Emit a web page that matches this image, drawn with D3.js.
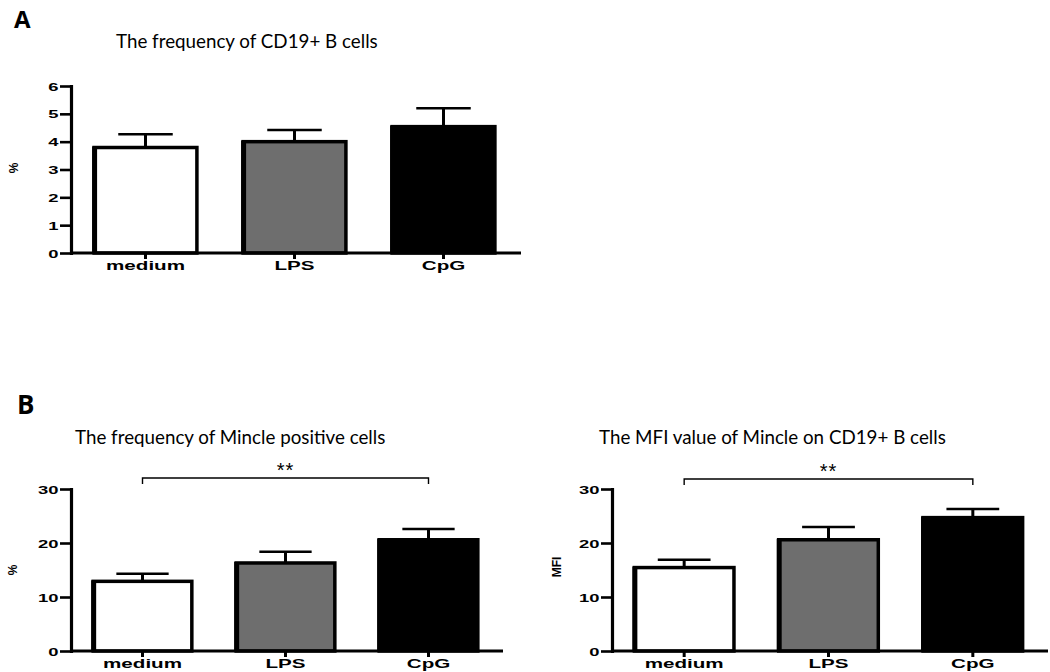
<!DOCTYPE html>
<html>
<head>
<meta charset="utf-8">
<script src="https://cdn.jsdelivr.net/npm/d3@7"></script>
<style>
  html, body { margin: 0; padding: 0; background: #fff; }
  svg { display: block; }
</style>
</head>
<body>
<script>
// ---------------- data ----------------
const categories = ["medium", "LPS", "CpG"];
const barColors = ["#ffffff", "#6e6e6e", "#000000"];

const cd19Mean = [3.79, 4.0, 4.54];
const cd19Err  = [0.48, 0.42, 0.66];
const cd19Ticks = [0, 1, 2, 3, 4, 5, 6];

const mincleFreqMean = [12.9, 16.3, 20.6];
const mincleFreqErr  = [1.4, 2.1, 2.0];
const mincleFreqTicks = [0, 10, 20, 30];

const mincleMfiMean = [15.45, 20.6, 24.7];
const mincleMfiErr  = [1.45, 2.35, 1.6];
const mincleMfiTicks = [0, 10, 20, 30];

const titles = {
  a: "The frequency of CD19+ B cells",
  b1: "The frequency of Mincle positive cells",
  b2: "The MFI value of Mincle on CD19+ B cells"
};
const signif = "**";

// ---------------- drawing ----------------
const W = 1050, H = 672;
const svg = d3.select("body").append("svg").attr("width", W).attr("height", H);

const boldFont = "'Liberation Sans', Arial, sans-serif";
const titleFont = "Lato, 'Open Sans', sans-serif";

// panel letters
svg.append("text").attr("x", 14).attr("y", 28)
  .attr("font-family", "'Open Sans', Arial, sans-serif").attr("font-weight", 700)
  .attr("font-size", 24).text("A");
svg.append("text").attr("x", 17).attr("y", 414)
  .attr("font-family", "'Open Sans', Arial, sans-serif").attr("font-weight", 700)
  .attr("font-size", 26).text("B");

// titles: size derived from width of title A
const probe = svg.append("text").attr("font-family", titleFont).attr("font-size", 18).text(titles.a);
const baseLen = probe.node().getComputedTextLength();
probe.remove();
const tSize = 18 * 262 / baseLen;

function title(x, y, s) {
  svg.append("text").attr("x", x).attr("y", y)
    .attr("font-family", titleFont).attr("font-size", tSize).attr("fill", "#000").text(s);
}
title(116, 48, titles.a);
title(75, 444, titles.b1);
title(599, 444, titles.b2);

function wide(sel, sx) { return sel.attr("transform", `scale(${sx},1)`); }

function drawPanel(cfg, means, errs, ticks, yLabel, sig) {
  const g = svg.append("g");
  const y = d3.scaleLinear().domain([0, d3.max(ticks)]).range([cfg.y0, cfg.y1]);
  const x = d3.scaleBand().domain(categories).range([cfg.x0, cfg.r1])
    .paddingInner(0.31).paddingOuter(0.155);
  const bw = x.bandwidth();

  // bars
  categories.forEach((c, i) => {
    const cx = x(c) + bw / 2;
    // error bar (one-sided, upper)
    g.append("line").attr("x1", cx).attr("x2", cx)
      .attr("y1", y(means[i])).attr("y2", y(means[i] + errs[i]))
      .attr("stroke", "#000").attr("stroke-width", 3);
    g.append("line").attr("x1", cx - bw * 0.265).attr("x2", cx + bw * 0.265)
      .attr("y1", y(means[i] + errs[i])).attr("y2", y(means[i] + errs[i]))
      .attr("stroke", "#000").attr("stroke-width", 2.5);
    g.append("rect")
      .attr("x", x(c)).attr("y", y(means[i]))
      .attr("width", bw).attr("height", y(0) - y(means[i]))
      .attr("fill", barColors[i]).attr("stroke", "#000").attr("stroke-width", 3.5);
    // heavier left edge
    g.append("line").attr("x1", x(c) + 0.5).attr("x2", x(c) + 0.5)
      .attr("y1", y(means[i]) - 1).attr("y2", y(0))
      .attr("stroke", "#000").attr("stroke-width", 5);
  });

  // y axis
  const ya = g.append("g").attr("transform", `translate(${cfg.x0},0)`)
    .call(d3.axisLeft(y).tickValues(ticks).tickSize(11).tickSizeOuter(0).tickFormat(d3.format("d")));
  ya.select(".domain").attr("stroke-width", 3.2).attr("stroke-linecap", "square");
  ya.selectAll(".tick line").attr("stroke-width", 2.6);
  const sxT = 1.6;
  ya.selectAll(".tick text")
    .attr("font-family", boldFont).attr("font-weight", 700).attr("font-size", 11.5)
    .attr("fill", "#000").attr("x", -12.5 / sxT).attr("dy", "0.36em")
    .call(wide, sxT);

  // x axis
  g.append("line").attr("x1", cfg.x0).attr("x2", cfg.xEnd)
    .attr("y1", y(0)).attr("y2", y(0)).attr("stroke", "#000").attr("stroke-width", 3.2);
  const xa = g.append("g").attr("transform", `translate(0,${y(0)})`)
    .call(d3.axisBottom(x).tickSize(6).tickSizeOuter(0));
  xa.select(".domain").remove();
  xa.selectAll(".tick line").attr("stroke-width", 3);
  const sxC = 1.65;
  xa.selectAll(".tick text")
    .attr("font-family", boldFont).attr("font-weight", 700).attr("font-size", 12.5)
    .attr("fill", "#000").attr("y", 17.5).attr("dy", 0)
    .call(wide, sxC);

  // y label
  g.append("text")
    .attr("transform", `translate(${cfg.labelX},${cfg.labelY}) rotate(-90)`)
    .attr("text-anchor", "middle")
    .attr("font-family", boldFont).attr("font-weight", 700).attr("font-size", 12)
    .text(yLabel);

  // significance bracket
  if (sig) {
    const a = x(categories[0]) + bw / 2, b = x(categories[2]) + bw / 2;
    g.append("path")
      .attr("d", `M${a},${cfg.brY + 6}V${cfg.brY}H${b}V${cfg.brY + 6}`)
      .attr("fill", "none").attr("stroke", "#000").attr("stroke-width", 1.4);
    g.append("text").attr("x", (a + b) / 2).attr("y", cfg.brY - 1)
      .attr("text-anchor", "middle").attr("font-family", boldFont)
      .attr("font-size", 20).attr("letter-spacing", 1).text(sig);
  }
}

drawPanel({ x0: 71, r1: 518, xEnd: 521, y0: 253, y1: 86, labelX: 18, labelY: 168 },
  cd19Mean, cd19Err, cd19Ticks, "%", null);
drawPanel({ x0: 71, r1: 500, xEnd: 503, y0: 651, y1: 489, labelX: 17, labelY: 570, brY: 478 },
  mincleFreqMean, mincleFreqErr, mincleFreqTicks, "%", signif);
drawPanel({ x0: 612, r1: 1045, xEnd: 1048, y0: 651, y1: 489, labelX: 561, labelY: 567, brY: 479 },
  mincleMfiMean, mincleMfiErr, mincleMfiTicks, "MFI", signif);
</script>
</body>
</html>
